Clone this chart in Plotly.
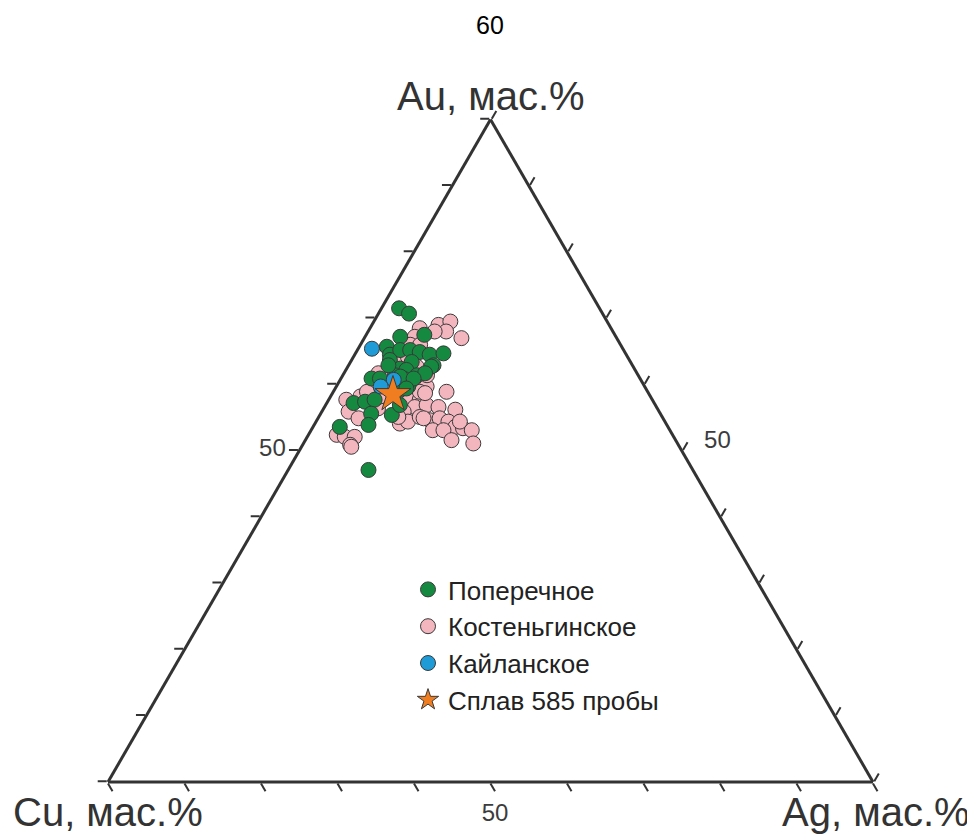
import plotly.graph_objects as go

# --- data: Au, Cu, Ag (mass %) ---
pop_au = [71.5, 70.7, 67.5, 67.2, 65.7, 64.5, 65.2, 65.2, 64.9, 64.5, 64.7, 63.7, 63.4, 62.9, 62.4, 62.2,
          61.4, 60.9, 60.9, 59.7, 59.2, 57.2, 57.4, 57.7, 55.6, 55.4, 53.9, 53.6, 47.1, 61.4, 62.7, 61.2,
          61.7, 60.9, 62.9, 60.9, 56.9, 59.4]
pop_cu = [26.2, 25.3, 24.9, 28.2, 30.7, 30.9, 29.2, 27.9, 26.8, 25.7, 23.8, 31.3, 28.6, 26.0, 30.6, 29.9,
          28.9, 35.1, 30.9, 30.9, 32.2, 39.3, 37.7, 36.3, 37.8, 35.2, 39.0, 42.9, 42.4, 31.8, 26.4, 31.2,
          27.7, 34.0, 31.9, 29.6, 33.4, 31.3]
pop_ag = [2.3, 4.0, 7.6, 4.6, 3.6, 4.6, 5.6, 6.9, 8.3, 9.8, 11.5, 5.0, 8.0, 11.1, 7.0, 7.9,
          9.7, 4.0, 8.2, 9.4, 8.6, 3.5, 4.9, 6.0, 6.6, 9.4, 7.1, 3.5, 10.5, 6.8, 10.9, 7.6,
          10.6, 5.1, 5.2, 9.5, 9.7, 9.3]

kos_au = [69.0, 69.5, 68.0, 67.0, 68.5, 68.0, 67.2, 66.0, 66.0, 63.7, 61.7, 60.2, 59.7, 58.9, 57.7, 57.7,
          56.6, 56.9, 56.6, 56.2, 55.9, 54.1, 54.4, 55.1, 54.6, 54.9, 54.4, 53.6, 53.4, 53.1, 53.1, 53.1,
          51.6, 51.1, 57.7, 58.2, 55.9, 54.9, 52.4, 52.1, 52.1, 50.9, 56.4, 58.9, 58.2, 58.9, 58.7, 62.2,
          62.7, 61.4, 60.4, 55.1, 64.2, 54.4, 54.9, 50.6]
kos_cu = [22.3, 20.5, 21.8, 20.3, 25.0, 23.3, 26.3, 27.5, 26.2, 29.5, 33.8, 33.9, 28.5, 26.3, 31.7, 30.4,
          31.6, 29.9, 28.5, 26.5, 33.4, 34.8, 33.6, 31.7, 30.6, 29.2, 28.3, 27.8, 26.9, 25.9, 31.0, 29.6,
          29.3, 26.7, 40.0, 37.9, 40.6, 39.8, 43.9, 43.0, 41.7, 42.9, 36.5, 36.7, 35.3, 29.8, 29.2, 31.4,
          28.3, 27.6, 30.3, 34.5, 28.7, 26.8, 31.3, 42.9]
kos_ag = [8.7, 10.0, 10.2, 12.7, 6.5, 8.7, 6.5, 6.5, 7.8, 6.8, 4.5, 5.9, 11.8, 14.8, 10.6, 11.9,
          11.8, 13.2, 14.9, 17.3, 10.7, 11.1, 12.0, 13.2, 14.8, 15.9, 17.3, 18.6, 19.7, 21.0, 15.9, 17.3,
          19.1, 22.2, 2.3, 3.9, 3.5, 5.3, 3.7, 4.9, 6.2, 6.2, 7.1, 4.4, 6.5, 11.3, 12.1, 6.4,
          9.0, 11.0, 9.3, 10.4, 7.1, 18.8, 13.8, 6.5]

kai_au = [65.4, 60.7, 59.7]
kai_cu = [32.8, 32.3, 34.5]
kai_ag = [1.8, 7.0, 5.8]

alloy_au = [58.5]
alloy_cu = [33.5]
alloy_ag = [8.0]

names = ["Поперечное", "Костеньгинское", "Кайланское", "Сплав 585 пробы"]
axis_titles = ["Au, мас.%", "Cu, мас.%", "Ag, мас.%"]
tick_vals = [0, 10, 20, 30, 40, 50, 60, 70, 80, 90, 100]
tick_text = ["", "", "", "", "", "50", "", "", "", "", ""]
tick_text_c = ["", "", "", "", "", "\u00a0\u00a050", "", "", "", "", ""]
page_number = "60"

EDGE = "#333333"
OUT = "#3a3a3a"
FONT = "Liberation Sans, Arial, sans-serif"

fig = go.Figure()
fig.add_trace(go.Scatterternary(
    a=kos_au, b=kos_cu, c=kos_ag, mode="markers", name=names[1], legendrank=2,
    marker=dict(size=15, color="#f3b5be", line=dict(color=OUT, width=1))))
fig.add_trace(go.Scatterternary(
    a=pop_au, b=pop_cu, c=pop_ag, mode="markers", name=names[0], legendrank=1,
    marker=dict(size=15, color="#14893f", line=dict(color=OUT, width=1))))
fig.add_trace(go.Scatterternary(
    a=kai_au, b=kai_cu, c=kai_ag, mode="markers", name=names[2], legendrank=3,
    marker=dict(size=15, color="#1f9bd7", line=dict(color=OUT, width=1))))
fig.add_trace(go.Scatterternary(
    a=alloy_au, b=alloy_cu, c=alloy_ag, mode="markers", name=names[3], legendrank=4,
    marker=dict(size=27, symbol="star", color="#f07d1f", line=dict(color=OUT, width=1))))

def axis(ticktext):
    return dict(
        title=dict(text=""),
        min=0, linecolor=EDGE, linewidth=3, showgrid=False,
        ticks="outside", ticklen=9, tickwidth=1.5, tickcolor=EDGE,
        tickmode="array", tickvals=tick_vals, ticktext=ticktext,
        tickfont=dict(family=FONT, size=24, color="#3c3c3c"),
    )

title_font = dict(family=FONT, size=40, color="#333333")

fig.update_layout(
    width=975, height=834,
    margin=dict(l=0, r=0, t=0, b=0),
    paper_bgcolor="white",
    showlegend=True,
    ternary=dict(
        sum=100,
        bgcolor="white",
        domain=dict(x=[100 / 975, 865 / 975], y=[60 / 834, 722.5 / 834]),
        aaxis=axis(tick_text),
        baxis=axis(tick_text),
        caxis=axis(tick_text_c),
    ),
    legend=dict(
        x=400 / 975, y=1 - 558 / 834, xanchor="left", yanchor="top",
        bgcolor="rgba(0,0,0,0)", itemsizing="trace",
        font=dict(family=FONT, size=26, color="#222222"),
        tracegroupgap=0,
    ),
    annotations=[
        dict(text=page_number, x=482 / 975, y=1 - 17 / 834, xref="paper", yref="paper",
             xanchor="center", yanchor="middle", showarrow=False,
             font=dict(family=FONT, size=25, color="#000000")),
        dict(text=axis_titles[0], x=483 / 975, y=1 - 88 / 834, xref="paper", yref="paper",
             xanchor="center", yanchor="middle", showarrow=False, font=title_font),
        dict(text=axis_titles[1], x=100 / 975, y=1 - 804 / 834, xref="paper", yref="paper",
             xanchor="center", yanchor="middle", showarrow=False, font=title_font),
        dict(text=axis_titles[2], x=868 / 975, y=1 - 804 / 834, xref="paper", yref="paper",
             xanchor="center", yanchor="middle", showarrow=False, font=title_font),
    ],
)

fig.write_html("out.html")
